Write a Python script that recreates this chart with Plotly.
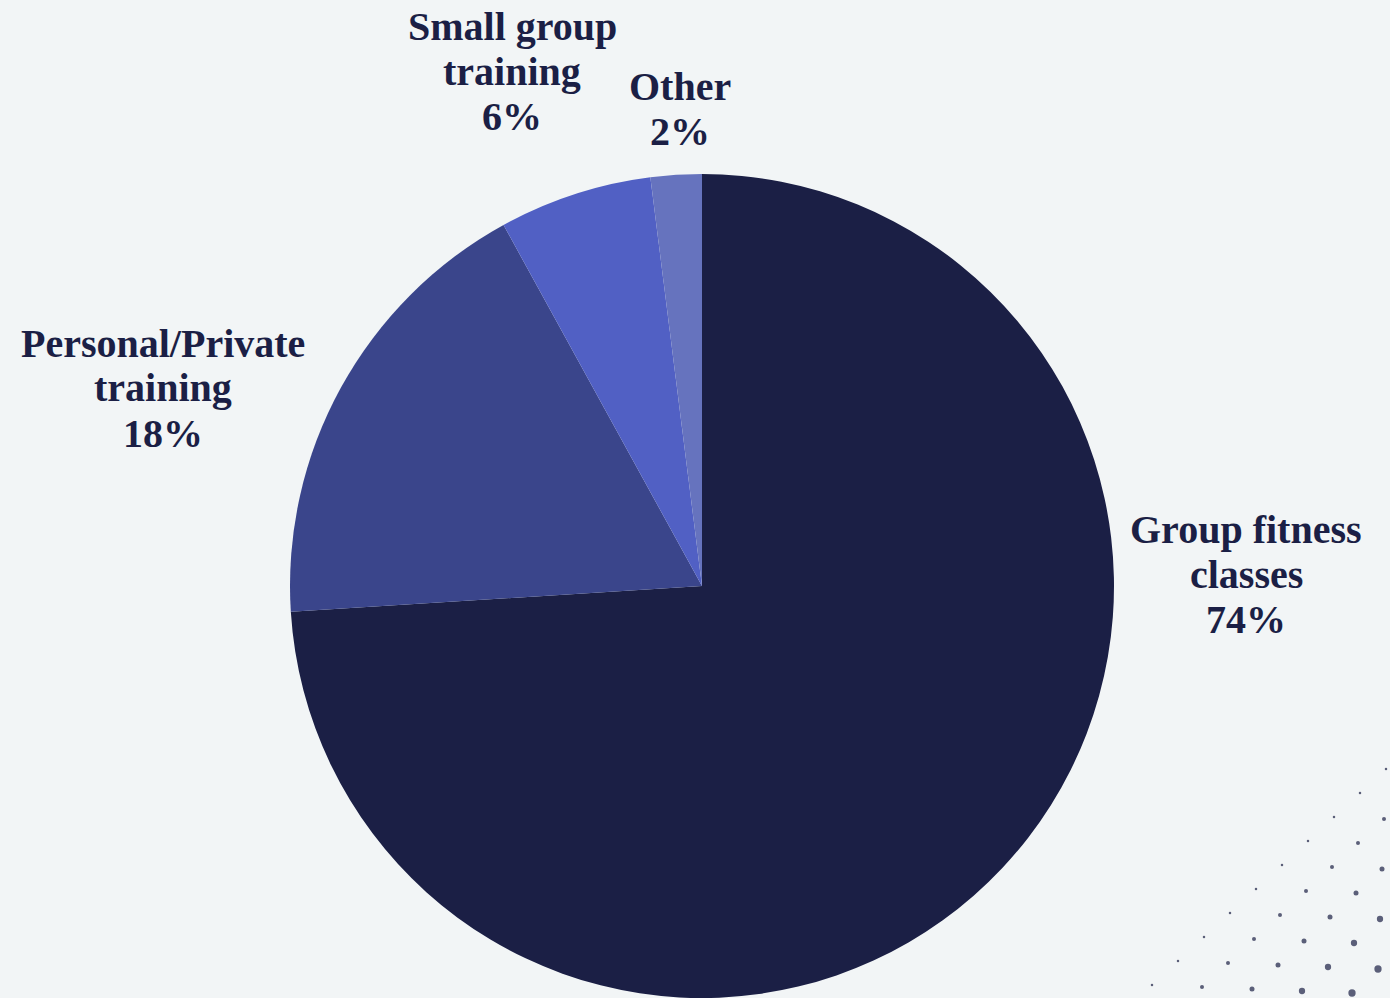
import plotly.graph_objects as go

# Share of members by type of training
categories = ["Group fitness<br>classes", "Personal/Private<br>training", "Small group<br>training", "Other"]
shares = [74, 18, 6, 2]
slice_colors = ["#1b1f45", "#3a458b", "#5160c4", "#6673be"]

INK = "#1b1f45"
BG = "#f2f5f6"
W, H = 1390, 998

fig = go.Figure()

fig.add_trace(go.Pie(
    labels=categories,
    values=shares,
    sort=False,
    direction="clockwise",
    rotation=0,
    marker=dict(colors=slice_colors, line=dict(width=0)),
    textinfo="none",
    hoverinfo="label+percent",
    showlegend=False,
    domain=dict(x=[290 / W, 1114 / W], y=[0, 1 - 174 / H]),
))

# Label placement (pixel centre of each text block) and line pitch
label_pos = [(1246, 574), (163, 388), (512, 71), (680, 109)]
LINE_PITCH = 45
for cat, val, (px, py) in zip(categories, shares, label_pos):
    lines = cat.split("<br>") + [f"{val}%"]
    n = len(lines)
    for k, line in enumerate(lines):
        ly = py + (k - (n - 1) / 2) * LINE_PITCH
        fig.add_annotation(
            x=px / W, y=1 - ly / H, xref="paper", yref="paper",
            text=line, showarrow=False,
            xanchor="center", yanchor="middle", align="center",
            font=dict(family="Liberation Serif", size=40, color=INK, weight="bold"),
        )

# Decorative halftone dot grid in the lower-right corner
dot_x, dot_y, dot_s = [], [], []
col_sizes = [2.5, 4.0, 5.0, 6.3, 7.3]
for i in range(10):
    for j, s in enumerate(col_sizes):
        x = 1386 - 26 * i + 50 * j
        y = 769 + 24 * i + 2 * j
        if x <= W + 4:
            dot_x.append(x)
            dot_y.append(y)
            dot_s.append(s)

fig.add_trace(go.Scatter(
    x=dot_x, y=dot_y, mode="markers",
    marker=dict(size=dot_s, color=INK, line=dict(width=0)),
    hoverinfo="skip", showlegend=False,
))

fig.update_xaxes(range=[0, W], visible=False, domain=[0, 1], fixedrange=True)
fig.update_yaxes(range=[H, 0], visible=False, domain=[0, 1], fixedrange=True)

fig.update_layout(
    width=W, height=H,
    margin=dict(l=0, r=0, t=0, b=0),
    paper_bgcolor=BG, plot_bgcolor=BG,
)

fig.write_html("out.html")
